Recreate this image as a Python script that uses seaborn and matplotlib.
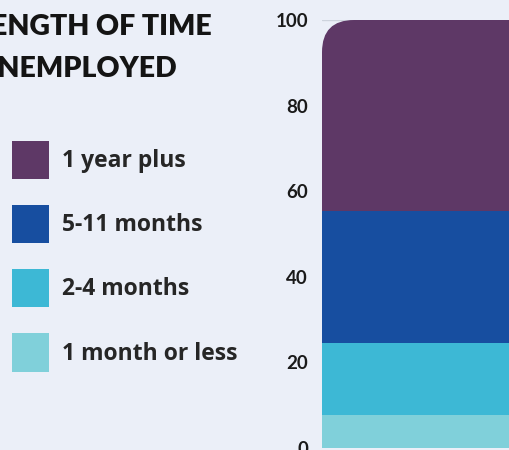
import pandas as pd
import seaborn as sns
import matplotlib.pyplot as plt
from matplotlib.patches import Patch, FancyBboxPatch

# share of unemployed by duration (percent), bottom to top
categories = ['1 month or less', '2-4 months', '5-11 months', '1 year plus']
shares = [7.7, 16.8, 30.9, 44.6]
colors = ['#80d0da', '#3db8d5', '#174ea0', '#5e3866']
yticks = [0, 20, 40, 60, 80, 100]

bg = '#ebeff8'
sns.set_theme(style='white')
plt.rcParams['font.family'] = ['Lato', 'DejaVu Sans']

df = pd.DataFrame({'duration': categories, 'share': shares})
df['top'] = df['share'].cumsum()
df['group'] = 'all'

fig = plt.figure(figsize=(5.1, 4.5), dpi=100, facecolor=bg)
ax = fig.add_axes([322 / 510, 2 / 450, 306 / 510, 428 / 450])
ax.set_facecolor(bg)

# stacked bar: draw the cumulative totals from the top layer down
for i in reversed(range(len(df))):
    sub = df.iloc[[i]]
    sns.barplot(data=sub, x='group', y='top', color=colors[i], width=0.8,
                saturation=1, ax=ax, zorder=2)

ax.set_xlim(-0.4, 0.6)
ax.set_ylim(0, 100)

# round only the top corners of the whole bar
aspect = (306 / 1.0) / (428 / 100)
clip = FancyBboxPatch((-0.4, -20), 0.8, 120,
                      boxstyle='round,pad=0,rounding_size=0.105',
                      mutation_aspect=aspect, transform=ax.transData)
for p in ax.patches:
    p.set_clip_path(clip)
    p.set_edgecolor('none')

ax.set_yticks(yticks)
ax.set_yticklabels([str(t) for t in yticks], fontsize=13.5, fontweight='bold', color='#1a1a1a')
ax.tick_params(axis='y', length=0, pad=10)
ax.set_xticks([])
ax.set_xlabel('')
ax.set_ylabel('')
ax.yaxis.grid(True, color='#cdd3dd', linewidth=1, zorder=0)
ax.set_axisbelow(True)
for s in ax.spines.values():
    s.set_visible(False)

fig.text(-24 / 510, 1 - 14 / 450, 'LENGTH OF TIME\nUNEMPLOYED', fontsize=20.5,
         fontweight='heavy', color='#141414', ha='left', va='top', linespacing=1.75)

handles = [Patch(facecolor=colors[i], edgecolor='none', label=categories[i])
           for i in reversed(range(len(categories)))]
fig.legend(handles=handles, loc='upper left', bbox_to_anchor=(12 / 510, 1 - 141 / 450),
           frameon=False, handlelength=1.62, handleheight=2.2,
           labelspacing=1.12, handletextpad=0.56, borderpad=0, borderaxespad=0,
           prop={'family': ['Open Sans', 'DejaVu Sans'], 'weight': 'bold', 'size': 16.5})

fig.savefig('out.png', dpi=100, facecolor=bg)
